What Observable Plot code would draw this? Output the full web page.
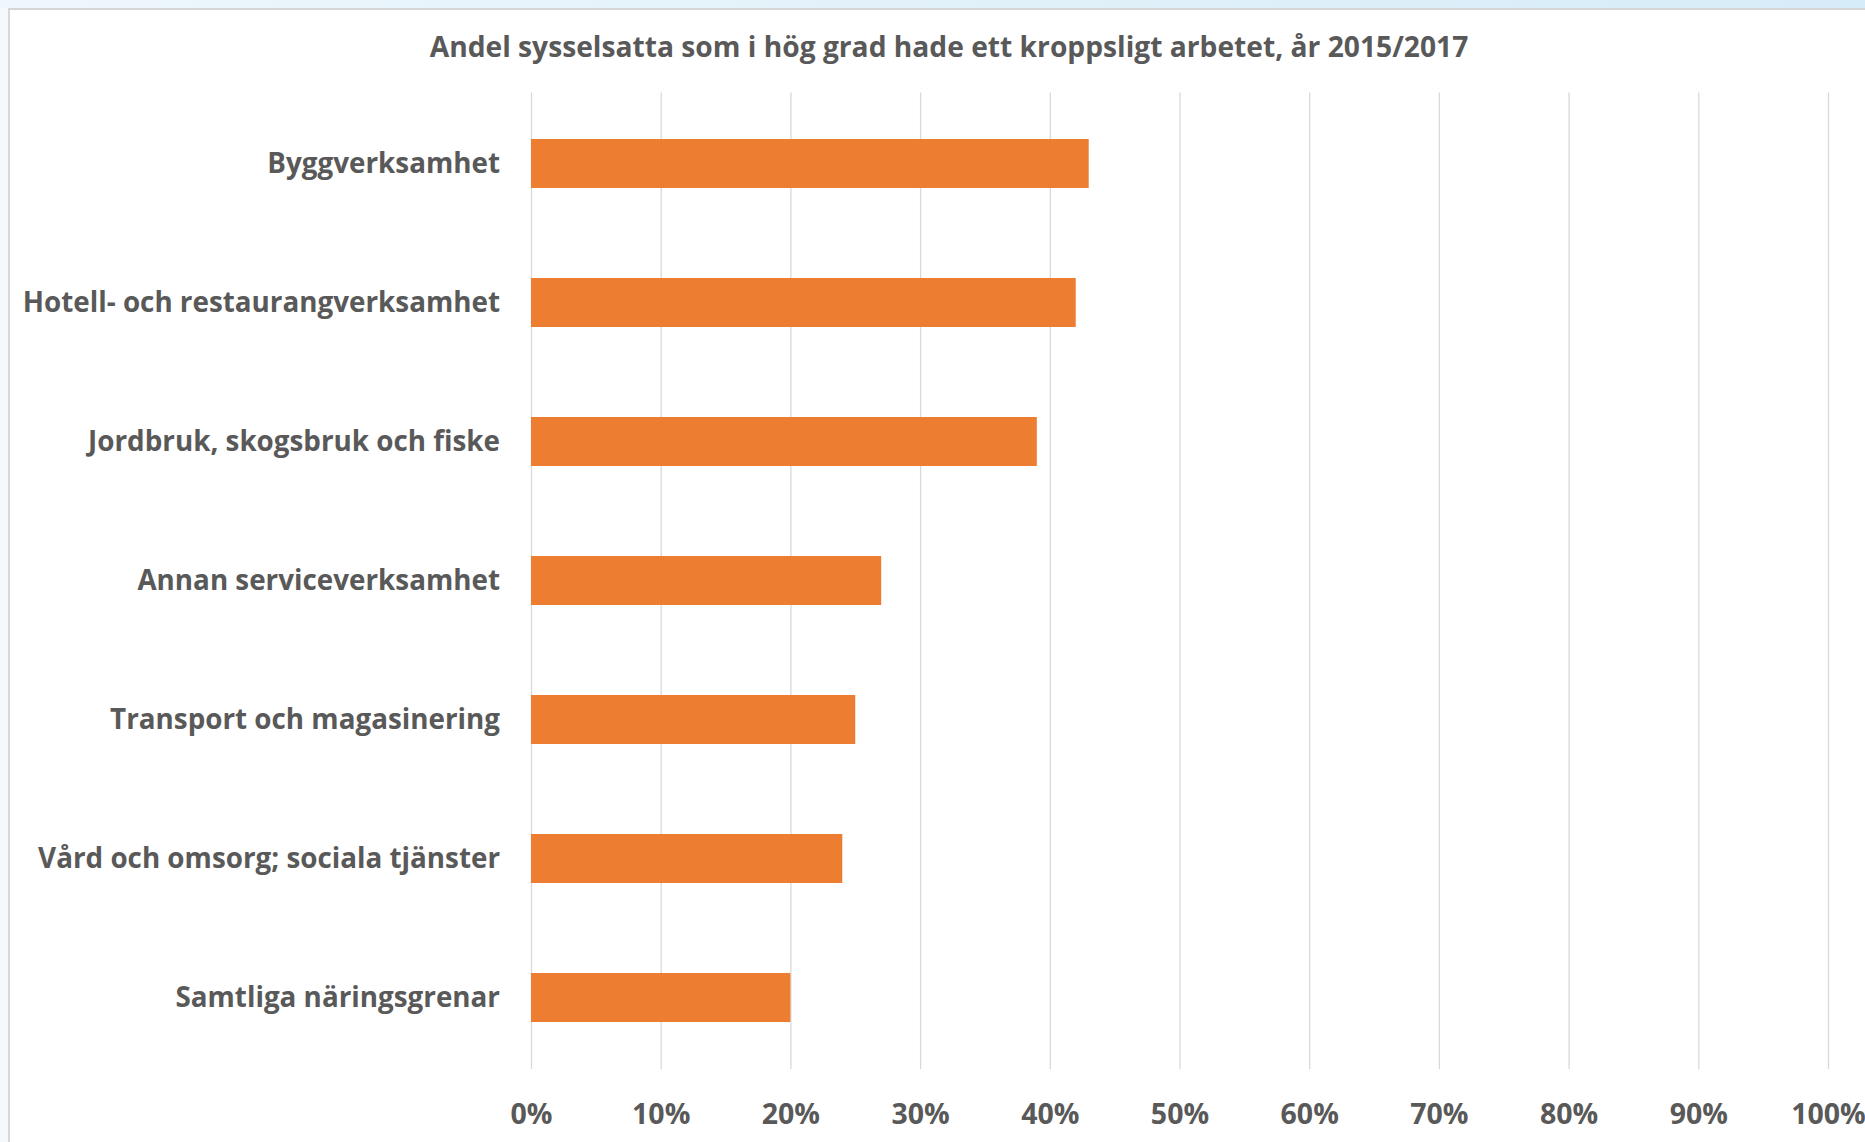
<!DOCTYPE html>
<html>
<head>
<meta charset="utf-8">
<script src="https://cdn.jsdelivr.net/npm/d3@7"></script>
<script src="https://cdn.jsdelivr.net/npm/@observablehq/plot@0.6"></script>
<style>
  html, body { margin: 0; padding: 0; background: #ffffff; }
  #wrap { position: relative; width: 1865px; height: 1142px; overflow: hidden; background: #f3f9fd; }
  #topband { position: absolute; left: 0; top: 0; width: 1865px; height: 8px;
    background: linear-gradient(to right, #eef7fc, #d6ecf8); }
  #panel { position: absolute; left: 8px; top: 8px; right: 0; bottom: 0; background: #ffffff;
    border-top: 2px solid #d5d5d5; border-left: 2px solid #d8d8d8; }
  #title { position: absolute; left: 0; width: 1898px; top: 27px; text-align: center;
    font-family: "Open Sans", sans-serif; font-weight: 700; font-size: 28.2px; color: #595959; white-space: nowrap; }
  #chart { position: absolute; left: 0; top: 0; }
</style>
</head>
<body>
<div id="wrap">
  <div id="topband"></div>
  <div id="panel"></div>
  <div id="title">Andel sysselsatta som i hög grad hade ett kroppsligt arbetet, år 2015/2017</div>
  <div id="chart"></div>
</div>
<script>
const categories = [
  "Byggverksamhet",
  "Hotell- och restaurangverksamhet",
  "Jordbruk, skogsbruk och fiske",
  "Annan serviceverksamhet",
  "Transport och magasinering",
  "Vård och omsorg; sociala tjänster",
  "Samtliga näringsgrenar"
];
const values = [43, 42, 39, 27, 25, 24, 20];
const xTicks = [0, 10, 20, 30, 40, 50, 60, 70, 80, 90, 100];

const data = categories.map((c, i) => ({category: c, value: values[i]}));

const chart = Plot.plot({
  width: 1865,
  height: 1142,
  marginLeft: 531,
  marginRight: 37,
  marginTop: 92.5,
  marginBottom: 73,
  style: { background: "transparent", fontFamily: "Open Sans, sans-serif", color: "#595959" },
  x: { domain: [0, 100] },
  y: { domain: categories, paddingInner: 0.65, paddingOuter: 0.325 },
  marks: [
    Plot.gridX(xTicks, { stroke: "#d9d9d9", strokeOpacity: 1, strokeWidth: 1.3 }),
    Plot.barX(data, { x: "value", y: "category", fill: "#ED7D31" }),
    Plot.axisX(xTicks, { tickSize: 0, tickPadding: 34, tickFormat: d => d + "%",
      fontSize: 28.5, fontWeight: 700, fill: "#595959" , label: null}),
    Plot.axisY({ tickSize: 0, tickPadding: 31.5, fontSize: 27.8, fontWeight: 700, fill: "#595959", label: null })
  ]
});
document.getElementById("chart").appendChild(chart);
</script>
</body>
</html>
